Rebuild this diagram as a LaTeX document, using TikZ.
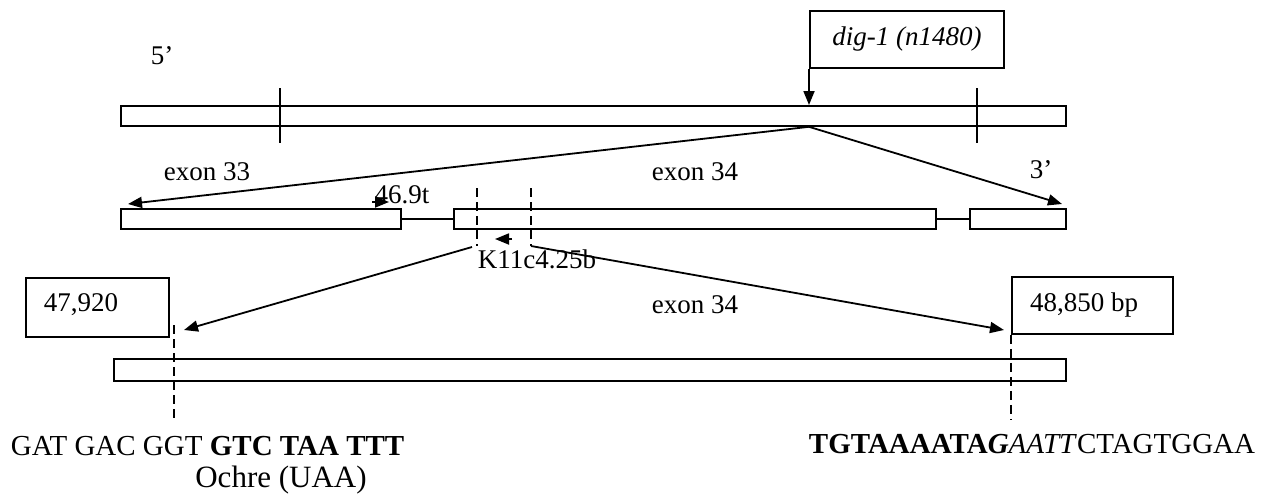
\documentclass[tikz,border=0pt]{standalone}
\usepackage{fontspec}
\setmainfont{Liberation Serif}
\usetikzlibrary{arrows.meta}
\begin{document}
\begin{tikzpicture}[x=1pt,y=-1pt,line width=1.8pt,
  bar/.style={draw,rectangle,inner sep=0pt,line width=1.8pt,anchor=north west},
  lbl/.style={inner sep=0pt,font=\fontsize{27}{30}\selectfont},
  seq/.style={inner sep=0pt,font=\fontsize{29}{32}\selectfont},
  arr/.style={-{Triangle[length=14pt,width=11pt]}},
  dtick/.style={dash pattern=on 9pt off 5pt}]
\useasboundingbox (0,0) rectangle (1279,496);

% genomic overview
\node[bar,minimum width=194pt,minimum height=57pt] (dig) at (809,10) {};
\node[lbl] (diglbl) at (dig.center) {\itshape dig-1 (n1480)};
\node[lbl] (five) at (162,56) {5’};
\node[bar,minimum width=945pt,minimum height=20pt] (topbar) at (120,105) {};
\coordinate (tA1) at (280,88);  \coordinate (tA2) at (280,143);
\coordinate (tB1) at (977,88);  \coordinate (tB2) at (977,143);
\draw (tA1) -- (tA2);
\draw (tB1) -- (tB2);
\draw[arr] (dig.south west) -- (dig.south west |- topbar.north);
\coordinate (mut) at (dig.south west |- topbar.south);

% exons 33-35
\node[bar,minimum width=280pt,minimum height=20pt] (ex33) at (120,208) {};
\node[bar,minimum width=482pt,minimum height=20pt] (ex34) at (453,208) {};
\node[bar,minimum width=96pt,minimum height=20pt] (ex35) at (969,208) {};
\draw (ex33.east) -- (ex34.west);
\draw (ex34.east) -- (ex35.west);
\coordinate (e33tip) at (128,204);
\coordinate (e35tip) at (1062,204);
\draw[arr] (mut) -- (e33tip);
\draw[arr] (mut) -- (e35tip);
\node[lbl] (ex33lbl) at (207,172) {exon 33};
\node[lbl] (ex34lbl) at (695,172) {exon 34};
\node[lbl] (three) at (1041,170) {3’};
\node[lbl] (p469) at (402,195) {46.9t};
\coordinate (p469a) at (372,202); \coordinate (p469b) at (389,202);
\draw[arr] (p469a) -- (p469b);
\coordinate (kA1) at (477,188); \coordinate (kA2) at (477,246);
\coordinate (kB1) at (531,188); \coordinate (kB2) at (531,246);
\draw[dtick] (kA1) -- (kA2);
\draw[dtick] (kB1) -- (kB2);
\coordinate (kpa) at (512,239); \coordinate (kpb) at (495,239);
\draw[arr] (kpa) -- (kpb);
\node[lbl] (k11) at (537,259) {K11c4.25b};

% exon 34 in detail
\node[bar,minimum width=143pt,minimum height=59pt] (box47) at (25,277) {};
\node[lbl] (lbl47) at (81,305) {47,920};
\node[bar,minimum width=161pt,minimum height=57pt] (box48) at (1011,276) {};
\node[lbl] (lbl48) at (1084,305) {48,850 bp};
\node[lbl] (ex34b) at (695,305) {exon 34};
\node[bar,minimum width=952pt,minimum height=22pt] (botbar) at (113,358) {};
\coordinate (s1a) at (174,325); \coordinate (s1b) at (174,420);
\coordinate (s2b) at (box48.south west |- s1b);
\draw[dtick] (s1a) -- (s1b);
\draw[dtick] (box48.south west) -- (s2b);
\coordinate (l1) at (472,247);
\coordinate (l1tip) at (184,330);
\coordinate (l2tip) at (1004,330);
\draw[arr] (l1) -- (l1tip);
\draw[arr] (kB2) -- (l2tip);

% sequences
\node[seq,anchor=west] (seqL) at (10,446) {GAT GAC GGT \textbf{GTC TAA TTT}};
\node[inner sep=0pt,font=\fontsize{31}{34}\selectfont] (ochre) at (281,480) {Ochre (UAA)};
\node[seq,anchor=west] (seqR) at (808,444) {\textbf{TGTAAAATA\textit{G}}\textit{AATT}CTAGTGGAA};
\end{tikzpicture}
\end{document}
